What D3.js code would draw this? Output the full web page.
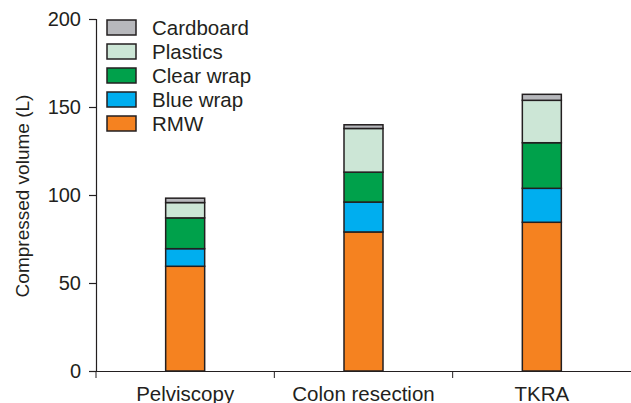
<!DOCTYPE html>
<html>

<head>
    <meta charset="utf-8">
    <title> Compressed volume </title>
    <script src="https://cdnjs.cloudflare.com/ajax/libs/d3/7.8.5/d3.min.js"></script>
    <style>
        html, body {
            margin: 0;
            padding: 0;
            background: #fff;
        }

        svg text {
            font-family: "Liberation Sans", Arial, sans-serif;
            fill: #231f20;
        }
    </style>
</head>

<body>
    <div id="chart"></div>

    <script>
        // data
        var procedures = ["Pelviscopy", "Colon resection", "TKRA"];
        var wasteTypes = ["RMW", "Blue wrap", "Clear wrap", "Plastics", "Cardboard"];
        var rmw = [59.5, 79, 84.5];
        var blueWrap = [10, 17, 19.3];
        var clearWrap = [17.5, 17, 25.9];
        var plastics = [8.7, 24.8, 24.1];
        var cardboard = [2.5, 2.1, 3.4];
        var yTicks = [0, 50, 100, 150, 200];
        var colors = ["#f58220", "#00aeef", "#00a14b", "#cce6d6", "#b7b8bc"];

        var width = 631, height = 403;
        var margin = { top: 19, right: 0, bottom: 32, left: 96 };

        var svg = d3.select("#chart")
            .append("svg")
            .attr("width", width)
            .attr("height", height);

        // one row per procedure for d3.stack
        var rows = procedures.map(function (p, i) {
            return {
                procedure: p,
                "RMW": rmw[i],
                "Blue wrap": blueWrap[i],
                "Clear wrap": clearWrap[i],
                "Plastics": plastics[i],
                "Cardboard": cardboard[i]
            };
        });

        var series = d3.stack().keys(wasteTypes)(rows);

        var x = d3.scaleBand()
            .domain(procedures)
            .range([margin.left, width - margin.right]);

        var y = d3.scaleLinear()
            .domain([0, 200])
            .range([height - margin.bottom, margin.top]);

        var color = d3.scaleOrdinal().domain(wasteTypes).range(colors);

        var barWidth = 39;

        // bars
        svg.append("g")
            .selectAll("g")
            .data(series)
            .join("g")
            .attr("fill", function (d) { return color(d.key); })
            .selectAll("rect")
            .data(function (d) { return d; })
            .join("rect")
            .attr("x", function (d) { return x(d.data.procedure) + x.bandwidth() / 2 - barWidth / 2; })
            .attr("y", function (d) { return y(d[1]); })
            .attr("width", barWidth)
            .attr("height", function (d) { return y(d[0]) - y(d[1]); })
            .attr("stroke", "#231f20")
            .attr("stroke-width", 1.5);

        // y axis
        var yAxis = svg.append("g")
            .attr("transform", "translate(" + margin.left + ",0)")
            .call(d3.axisLeft(y).tickValues(yTicks).tickSize(7).tickPadding(8));

        yAxis.selectAll("text")
            .style("font-size", "20px");

        // x axis, ticks at band edges
        var xAxis = svg.append("g")
            .attr("transform", "translate(0," + (height - margin.bottom) + ")")
            .call(d3.axisBottom(x).tickSize(0).tickPadding(15));

        xAxis.selectAll("text")
            .style("font-size", "20.5px");

        xAxis.selectAll(".edge")
            .data(procedures)
            .join("line")
            .attr("class", "edge")
            .attr("x1", function (d) { return x(d); })
            .attr("x2", function (d) { return x(d); })
            .attr("y1", 0)
            .attr("y2", 7)
            .attr("stroke", "#231f20");

        svg.selectAll(".domain, .tick line")
            .attr("stroke", "#231f20")
            .attr("stroke-width", 1.2);

        // y title
        svg.append("text")
            .attr("transform", "translate(29," + (y(100) + 1) + ") rotate(-90)")
            .attr("text-anchor", "middle")
            .style("font-size", "19px")
            .text("Compressed volume (L)");

        // legend, top entry is cardboard
        var legend = svg.append("g")
            .attr("transform", "translate(107,20)")
            .selectAll("g")
            .data(wasteTypes.slice().reverse())
            .join("g")
            .attr("transform", function (d, i) { return "translate(0," + (i * 24) + ")"; });

        legend.append("rect")
            .attr("width", 29)
            .attr("height", 15)
            .attr("fill", function (d) { return color(d); })
            .attr("stroke", "#231f20")
            .attr("stroke-width", 1.5);

        legend.append("text")
            .attr("x", 45)
            .attr("y", 8)
            .attr("dy", "0.35em")
            .style("font-size", "20.5px")
            .text(function (d) { return d; });
    </script>

</body>

</html>
